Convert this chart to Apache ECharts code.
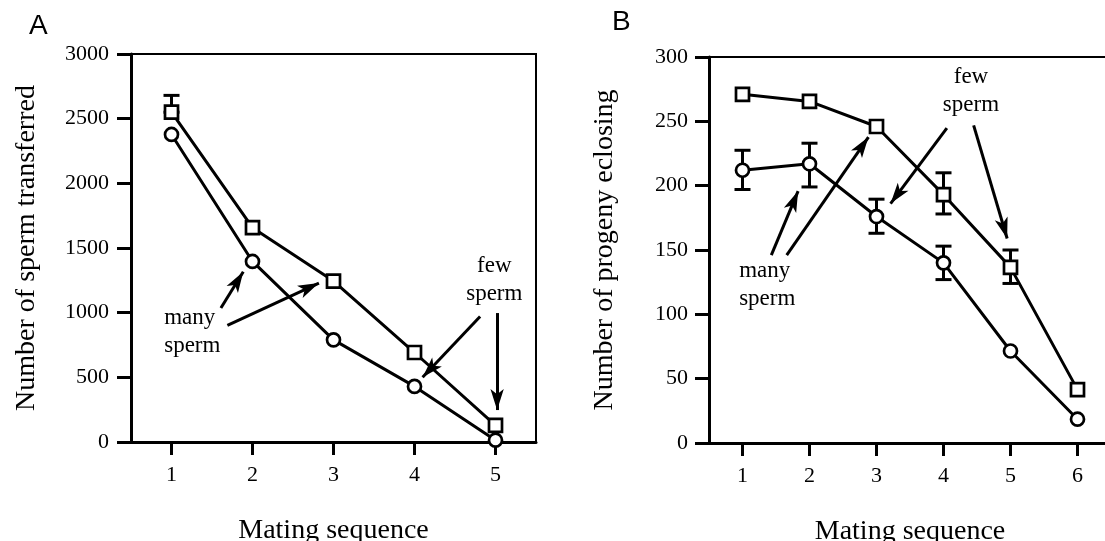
<!DOCTYPE html>
<html><head><meta charset="utf-8">
<script src="https://cdn.jsdelivr.net/npm/echarts@6/dist/echarts.min.js"></script>
<style>html,body{margin:0;padding:0;background:#fff}#c{width:1105px;height:541px}</style>
</head><body><div id="c"></div>
<script>
// ---------- Panel A data ----------
const matingA = [1, 2, 3, 4, 5];
const squaresA = [2550, 1657, 1244, 692, 128];
const circlesA = [2378, 1396, 790, 430, 14];
const errSquaresA = [[1, 2550, 2680]];          // [x, low, high] (lower whisker hidden)
const errCirclesA = [];
const yTicksA = [0, 500, 1000, 1500, 2000, 2500, 3000];
const arrowsA = [                                 // [from, tip] in data units
  [[1.61, 1036], [1.886, 1317]],
  [[1.69, 902], [2.82, 1229]],
  [[4.81, 970], [4.10, 501]],
  [[5.02, 997], [5.02, 247]]
];
const notesA = [
  { text: 'many\nsperm', at: [0.91, 848], align: 'left' },
  { text: 'few\nsperm', at: [4.985, 1255], align: 'center' }
];

// ---------- Panel B data ----------
const matingB = [1, 2, 3, 4, 5, 6];
const squaresB = [271, 265.5, 246, 193, 136.5, 41.5];
const circlesB = [212, 217, 176, 140, 71.5, 18.5];
const errSquaresB = [[4, 178, 210], [5, 124, 150]];
const errCirclesB = [[1, 197, 227.5], [2, 199, 233], [3, 163, 189.5], [4, 127, 153]];
const yTicksB = [0, 50, 100, 150, 200, 250, 300];
const arrowsB = [
  [[1.43, 146], [1.83, 195.8]],
  [[1.66, 146], [2.88, 237.8]],
  [[4.05, 244.8], [3.21, 186.1]],
  [[4.45, 246.9], [4.95, 158.9]]
];
const notesB = [
  { text: 'many\nsperm', at: [0.95, 123], align: 'left' },
  { text: 'few\nsperm', at: [4.41, 274], align: 'center' }
];

const SERIF = 'Liberation Serif';
const BLACK = '#000';

function xAxis(idx, ticks) {
  return {
    type: 'value', gridIndex: idx,
    min: ticks[0] - 0.5, max: ticks[ticks.length - 1] + 0.5,
    axisLine: { show: true, onZero: false, lineStyle: { color: BLACK, width: 3 } },
    axisTick: { show: true, customValues: ticks, length: 13, lineStyle: { color: BLACK, width: 3 } },
    axisLabel: { customValues: ticks, margin: 22, fontSize: 22, fontFamily: SERIF, color: BLACK },
    splitLine: { show: false },
    name: 'Mating sequence', nameLocation: 'middle', nameGap: 75,
    nameTextStyle: { fontSize: 28, fontFamily: SERIF, color: BLACK }
  };
}
function yAxis(idx, ticks, name, margin) {
  return {
    type: 'value', gridIndex: idx,
    min: ticks[0], max: ticks[ticks.length - 1], interval: ticks[1] - ticks[0],
    axisLine: { show: true, onZero: false, lineStyle: { color: BLACK, width: 3 } },
    axisTick: { show: true, length: 14, lineStyle: { color: BLACK, width: 3 } },
    axisLabel: { margin: margin, fontSize: 22, fontFamily: SERIF, color: BLACK,
                 formatter: v => String(v) },
    splitLine: { show: false },
    name: name, nameLocation: 'middle', nameGap: 90,
    nameTextStyle: { fontSize: 28, fontFamily: SERIF, color: BLACK }
  };
}
function renderErr(params, api) {
  const x = api.value(0), lo = api.value(1), hi = api.value(2);
  const pHi = api.coord([x, hi]), pLo = api.coord([x, lo]);
  const w = 8;
  const style = { stroke: BLACK, lineWidth: 3, fill: null };
  return {
    type: 'group', children: [
      { type: 'line', shape: { x1: pHi[0], y1: pHi[1], x2: pLo[0], y2: pLo[1] }, style: style },
      { type: 'line', shape: { x1: pHi[0] - w, y1: pHi[1], x2: pHi[0] + w, y2: pHi[1] }, style: style },
      { type: 'line', shape: { x1: pLo[0] - w, y1: pLo[1], x2: pLo[0] + w, y2: pLo[1] }, style: style }
    ]
  };
}
function errSeries(idx, data) {
  return { type: 'custom', xAxisIndex: idx, yAxisIndex: idx, renderItem: renderErr,
           data: data, encode: { x: 0, y: [1, 2] }, z: 1, silent: true };
}
function lineSeries(idx, xs, ys, symbol, extra) {
  return Object.assign({
    type: 'line', xAxisIndex: idx, yAxisIndex: idx,
    data: xs.map((x, i) => [x, ys[i]]),
    symbol: symbol, symbolSize: 13, showAllSymbol: true,
    lineStyle: { color: BLACK, width: 3 },
    itemStyle: { color: '#fff', borderColor: BLACK, borderWidth: 2.7 },
    z: 3, silent: true
  }, extra || {});
}
function annot(arrows, notes) {
  return {
    markLine: {
      silent: true, animation: false,
      symbol: ['none', 'arrow'], symbolSize: [10, 21],
      lineStyle: { color: BLACK, width: 3, type: 'solid' },
      label: { show: false },
      data: arrows.map(a => [{ coord: a[0] }, { coord: a[1] }])
    },
    markPoint: {
      silent: true, animation: false,
      symbol: 'circle', symbolSize: 0,
      itemStyle: { color: 'rgba(0,0,0,0)' },
      data: notes.map(n => ({
        coord: n.at, value: 0,
        label: {
          show: true, formatter: n.text,
          position: n.align === 'left' ? 'right' : 'inside', distance: 0,
          align: n.align, verticalAlign: 'middle',
          fontSize: 23, lineHeight: 28, fontFamily: SERIF, color: BLACK
        }
      }))
    }
  };
}

const chart = echarts.init(document.getElementById('c'), null, { renderer: 'canvas' });
chart.setOption({
  animation: false,
  backgroundColor: '#fff',
  title: [
    { text: 'A', left: 29, top: 12, padding: 0,
      textStyle: { fontFamily: 'Liberation Sans', fontSize: 28, fontWeight: 'normal', color: BLACK } },
    { text: 'B', left: 612, top: 8, padding: 0,
      textStyle: { fontFamily: 'Liberation Sans', fontSize: 28, fontWeight: 'normal', color: BLACK } }
  ],
  grid: [
    { left: 131, top: 54, width: 405, height: 388, outerBoundsMode: 'none', containLabel: false,
      show: true, borderColor: BLACK, borderWidth: 2, backgroundColor: 'transparent' },
    { left: 709, top: 57, width: 402, height: 386, outerBoundsMode: 'none', containLabel: false,
      show: true, borderColor: BLACK, borderWidth: 2, backgroundColor: 'transparent' }
  ],
  xAxis: [xAxis(0, matingA), xAxis(1, matingB)],
  yAxis: [yAxis(0, yTicksA, 'Number of sperm transferred', 22), yAxis(1, yTicksB, 'Number of progeny eclosing', 21)],
  series: [
    errSeries(0, errSquaresA),
    errSeries(0, errCirclesA),
    lineSeries(0, matingA, squaresA, 'rect', annot(arrowsA, notesA)),
    lineSeries(0, matingA, circlesA, 'circle'),
    errSeries(1, errSquaresB),
    errSeries(1, errCirclesB),
    lineSeries(1, matingB, squaresB, 'rect', annot(arrowsB, notesB)),
    lineSeries(1, matingB, circlesB, 'circle')
  ]
});
</script></body></html>
